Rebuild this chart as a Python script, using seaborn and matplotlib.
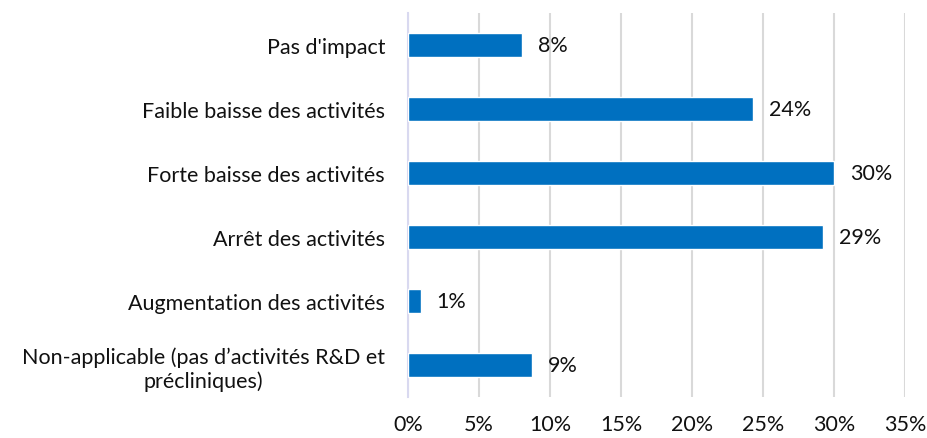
import pandas as pd
import numpy as np
import seaborn as sns
import matplotlib.pyplot as plt

categories = ["Pas d'impact",
              "Faible baisse des activités",
              "Forte baisse des activités",
              "Arrêt des activités",
              "Augmentation des activités",
              "Non-applicable (pas d\u2019activités R&D et\nprécliniques)"]
values = [8.0, 24.3, 30.0, 29.2, 0.9, 8.7]
labels = ["8%", "24%", "30%", "29%", "1%", "9%"]
xticks = [0, 5, 10, 15, 20, 25, 30, 35]

df = pd.DataFrame({'cat': categories, 'val': values})

sns.set_style('white')
plt.rcParams['font.family'] = ['Lato', 'DejaVu Sans']
fs = 15.5

fig = plt.figure(figsize=(9.28, 4.39), dpi=100)
ax = fig.add_axes([408/928, 1 - 398/439, 497/928, 384/439])

sns.barplot(data=df, x='val', y='cat', orient='h', color='#0070C0',
            width=0.36, saturation=1, ax=ax, zorder=3)

ax.set_xlim(0, 35)
ax.set_ylim(5.5, -0.5)
ax.set_xticks(xticks)
ax.set_xticklabels([f'{t}%' for t in xticks], fontsize=fs, color='#111111')
ax.tick_params(axis='y', labelsize=fs, labelcolor='#111111', length=0, pad=16.5)
ax.tick_params(axis='x', length=0, pad=12)
for t in ax.get_yticklabels():
    t.set_multialignment('center')

ax.grid(axis='x', color='#D9D9D9', linewidth=1.5, zorder=0)
ax.grid(axis='y', visible=False)
for s in ['top', 'right', 'bottom']:
    ax.spines[s].set_visible(False)
ax.spines['left'].set_color('#D9D9F0')
ax.spines['left'].set_linewidth(1.5)
ax.set_xlabel('')
ax.set_ylabel('')

for i, (v, lab) in enumerate(zip(values, labels)):
    ax.annotate(lab, (v, i), xytext=(11.5, 0), textcoords='offset points',
                va='center', ha='left', fontsize=fs, color='#111111')

fig.savefig('out.png', dpi=100)
